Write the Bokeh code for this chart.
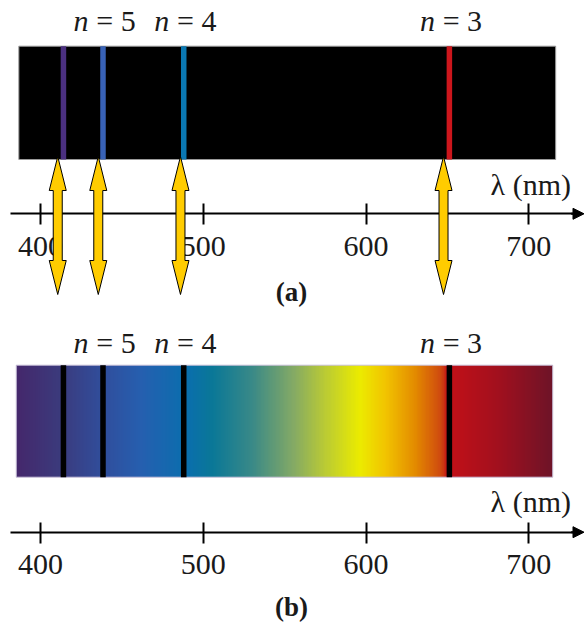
import numpy as np
from bokeh.plotting import figure
from bokeh.models import Range1d, LinearAxis, FixedTicker, Arrow, NormalHead
from bokeh.core.properties import value
from bokeh.embed import file_html
from bokeh.resources import INLINE

# ---- data (wavelengths in nm) ----
ticks = [400, 500, 600, 700]
tick_labels = {400: "400", 500: "500", 600: "600", 700: "700"}
line_nm = [414.1, 438.4, 488.0, 651.2]
line_colors = ["#4b3080", "#3862b6", "#0a78b2", "#cc161c"]
arrow_nm = [410.6, 435.5, 486.0, 647.6]
n_label_nm = [438.4, 488.0, 651.2]
n_label_num = ["= 5", "= 4", "= 3"]
spec_a = [386.7, 716.5]
spec_b = [385.1, 714.7]

# gradient colour stops (style)
stop_nm = [385, 410, 440, 462, 490, 505, 530, 555, 575, 596, 612, 630, 646, 650, 680, 715]
stop_col = ["#45286c", "#3c3a7c", "#30509f", "#2660b0", "#0a6fae", "#0a7898", "#3a8a88",
            "#84aa66", "#bccc34", "#ecec00", "#f2c400", "#e48c00", "#d04a10", "#c41018",
            "#a4101e", "#6e1428"]

PX = 1.6277  # px per nm
FONT = "Liberation Serif"

p = figure(width=584, height=625, x_range=Range1d(375.43, 734.21), y_range=Range1d(625, 0),
           x_axis_type=None, y_axis_type=None, min_border=0, toolbar_location=None,
           output_backend="svg", outline_line_color=None)
p.grid.visible = False

# ---- panel (a): emission spectrum ----
ya_top, ya_bot = 45.7, 159.0
p.quad(left=[spec_a[0]], right=[spec_a[1]], top=[ya_top], bottom=[ya_bot],
       fill_color="black", line_color="#9a9a9a", line_width=1)
p.vbar(x=line_nm, width=5.5 / PX, top=ya_top, bottom=ya_bot, fill_color=line_colors,
       line_color=None)

# ---- panel (b): absorption spectrum ----
yb_top, yb_bot = 364.7, 476.7
def hex2rgb(h):
    return [int(h[i:i + 2], 16) for i in (1, 3, 5)]
rgb = np.array([hex2rgb(c) for c in stop_col], dtype=float)
ncols = 400
xs = np.linspace(spec_b[0], spec_b[1], ncols)
img8 = np.zeros((1, ncols, 4), dtype=np.uint8)
for k in range(3):
    img8[0, :, k] = np.interp(xs, stop_nm, rgb[:, k]).astype(np.uint8)
img8[0, :, 3] = 255
img = img8.view(dtype=np.uint32).reshape((1, ncols))
p.image_rgba(image=[img], x=spec_b[0], y=yb_top, dw=spec_b[1] - spec_b[0], dh=yb_bot - yb_top)
p.quad(left=[spec_b[0]], right=[spec_b[1]], top=[yb_top], bottom=[yb_bot],
       fill_color=None, line_color="#c8c0d8", line_width=1)
p.vbar(x=line_nm, width=5.5 / PX, top=yb_top, bottom=yb_bot, fill_color="black",
       line_color=None)

# ---- n labels ----
for y_mid in (20.0, 342.0):
    p.text(x=n_label_nm, y=[y_mid] * 3, text=["n"] * 3, x_offset=-22,
           text_align="center", text_baseline="middle", text_font=value(FONT),
           text_font_style="italic", text_font_size="30px", text_color="#1a1a1a")
    p.text(x=n_label_nm, y=[y_mid] * 3, text=n_label_num, x_offset=13,
           text_align="center", text_baseline="middle", text_font=value(FONT),
           text_font_size="30px", text_color="#1a1a1a")

# ---- axes ----
for y_ax in (213.3, 531.7):
    ax = LinearAxis(fixed_location=y_ax, ticker=FixedTicker(ticks=ticks))
    ax.bounds = (381.6, 730.0)
    ax.axis_line_width = 2
    ax.major_tick_line_width = 2
    ax.major_tick_in = 10
    ax.major_tick_out = 11
    ax.minor_tick_line_color = None
    ax.major_label_overrides = tick_labels
    ax.major_label_standoff = 12
    ax.major_label_text_font = FONT
    ax.major_label_text_font_size = "30px"
    ax.major_label_text_color = "#1a1a1a"
    p.add_layout(ax, "below")
    p.add_layout(Arrow(end=NormalHead(size=11, fill_color="black", line_color="black"),
                       x_start=726.0, y_start=y_ax, x_end=733.9, y_end=y_ax,
                       line_width=2, line_color="black"))

p.text(x=[725.9, 725.9], y=[184.0, 501.0], text=["λ (nm)", "λ (nm)"], text_align="right",
       text_baseline="middle", text_font=value(FONT), text_font_size="30px",
       text_color="#1a1a1a")

# ---- yellow double arrows ----
yt, yb = 156.0, 294.0
hl, hw, sw = 34.0, 8.5, 4.5
shape = [(0, yt), (hw, yt + hl), (sw, yt + hl), (sw, yb - hl), (hw, yb - hl), (0, yb),
         (-hw, yb - hl), (-sw, yb - hl), (-sw, yt + hl), (-hw, yt + hl)]
axs, ays = [], []
for a in arrow_nm:
    axs.append([a + dx / PX for dx, _ in shape])
    ays.append([yy for _, yy in shape])
r = p.patches(xs=axs, ys=ays, fill_color="#ffcc00", line_color="black", line_width=1)
r.level = "overlay"

# ---- panel captions ----
p.text(x=[554.2, 554.2], y=[291.0, 606.0], text=["(a)", "(b)"], text_align="center",
       text_baseline="middle", text_font=value(FONT), text_font_style="bold",
       text_font_size="27px", text_color="#1a1a1a")

open("out.html", "w").write(file_html(p, INLINE))
